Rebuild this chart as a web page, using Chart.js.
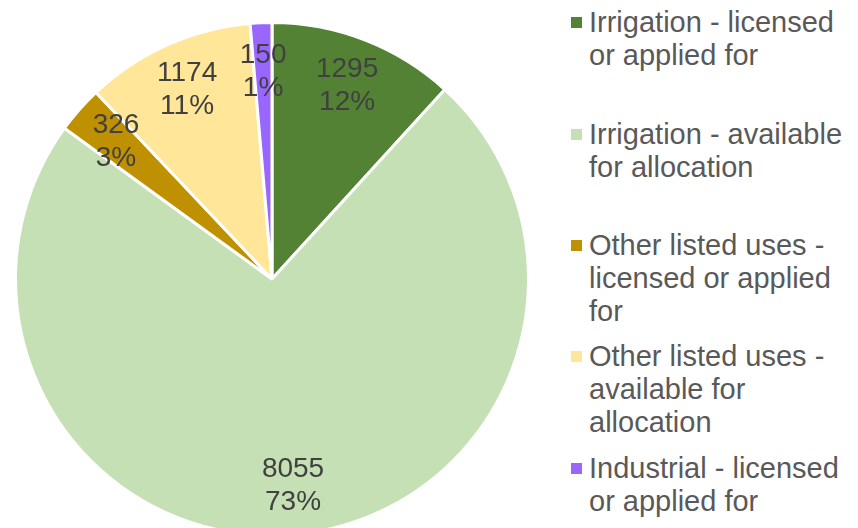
<!DOCTYPE html>
<html>
<head>
<meta charset="utf-8">
<script src="https://cdn.jsdelivr.net/npm/chart.js@4/dist/chart.umd.min.js"></script>
<style>
  html, body { margin: 0; padding: 0; background: #fff; overflow: hidden; width: 858px; height: 528px; }
  #wrap { position: absolute; left: 0; top: 0; width: 544px; height: 558px; }
  #leyenda { position: absolute; left: 0; top: 0; font-family: "Liberation Sans", Arial, sans-serif; font-size: 29px; line-height: 33px; color: #595959; }
  .item { position: absolute; left: 571px; width: 290px; }
  .cuadro { position: absolute; left: 0; top: 11px; width: 11px; height: 11px; }
  .texto { position: absolute; left: 18px; width: 268px; }
</style>
</head>
<body>
<div id="wrap"><canvas id="grafico-agua"></canvas></div>
<div id="leyenda"></div>
<script>
// Datos del gráfico
var categorias = [
  "Irrigation - licensed or applied for",
  "Irrigation - available for allocation",
  "Other listed uses - licensed or applied for",
  "Other listed uses - available for allocation",
  "Industrial - licensed or applied for",
];
var valores = [1295, 8055, 326, 1174, 150];
var colores = ["#548235", "#C5E0B4", "#BF9000", "#FFE699", "#9966FF"];

var total = valores.reduce(function (a, b) { return a + b; }, 0);

// Etiquetas de datos: valor y porcentaje dentro de cada sector
var etiquetasPlugin = {
  id: "etiquetas",
  afterDatasetsDraw: function (chart) {
    var ctx = chart.ctx;
    var meta = chart.getDatasetMeta(0);
    ctx.save();
    ctx.font = '28px "Liberation Sans", Arial, sans-serif';
    ctx.fillStyle = "#404040";
    ctx.textAlign = "center";
    ctx.textBaseline = "middle";
    meta.data.forEach(function (arc, i) {
      var ang = (arc.startAngle + arc.endAngle) / 2;
      var r = arc.outerRadius * 0.81;
      var x = arc.x + Math.cos(ang) * r;
      var y = arc.y + Math.sin(ang) * r;
      var pct = Math.round((valores[i] / total) * 100) + "%";
      ctx.fillText(String(valores[i]), x, y - 16);
      ctx.fillText(pct, x, y + 17);
    });
    ctx.restore();
  },
};

var ctx = document.getElementById("grafico-agua").getContext("2d");

var miGrafico = new Chart(ctx, {
  type: "pie",
  data: {
    labels: categorias,
    datasets: [
      {
        data: valores,
        backgroundColor: colores,
        borderColor: "#ffffff",
        borderWidth: 3,
      },
    ],
  },
  options: {
    responsive: true,
    maintainAspectRatio: false,
    animation: false,
    layout: { padding: { left: 14, right: 14, top: 21, bottom: 21 } },
    plugins: {
      legend: { display: false },
      tooltip: { enabled: false },
    },
  },
  plugins: [etiquetasPlugin],
});

// Leyenda a la derecha (texto con salto de línea)
var leyenda = document.getElementById("leyenda");
categorias.forEach(function (cat, i) {
  var item = document.createElement("div");
  item.className = "item";
  item.style.top = (6.2 + i * 111.4) + "px";
  var cuadro = document.createElement("div");
  cuadro.className = "cuadro";
  cuadro.style.background = colores[i];
  var texto = document.createElement("div");
  texto.className = "texto";
  texto.textContent = cat;
  item.appendChild(cuadro);
  item.appendChild(texto);
  leyenda.appendChild(item);
});
</script>
</body>
</html>
